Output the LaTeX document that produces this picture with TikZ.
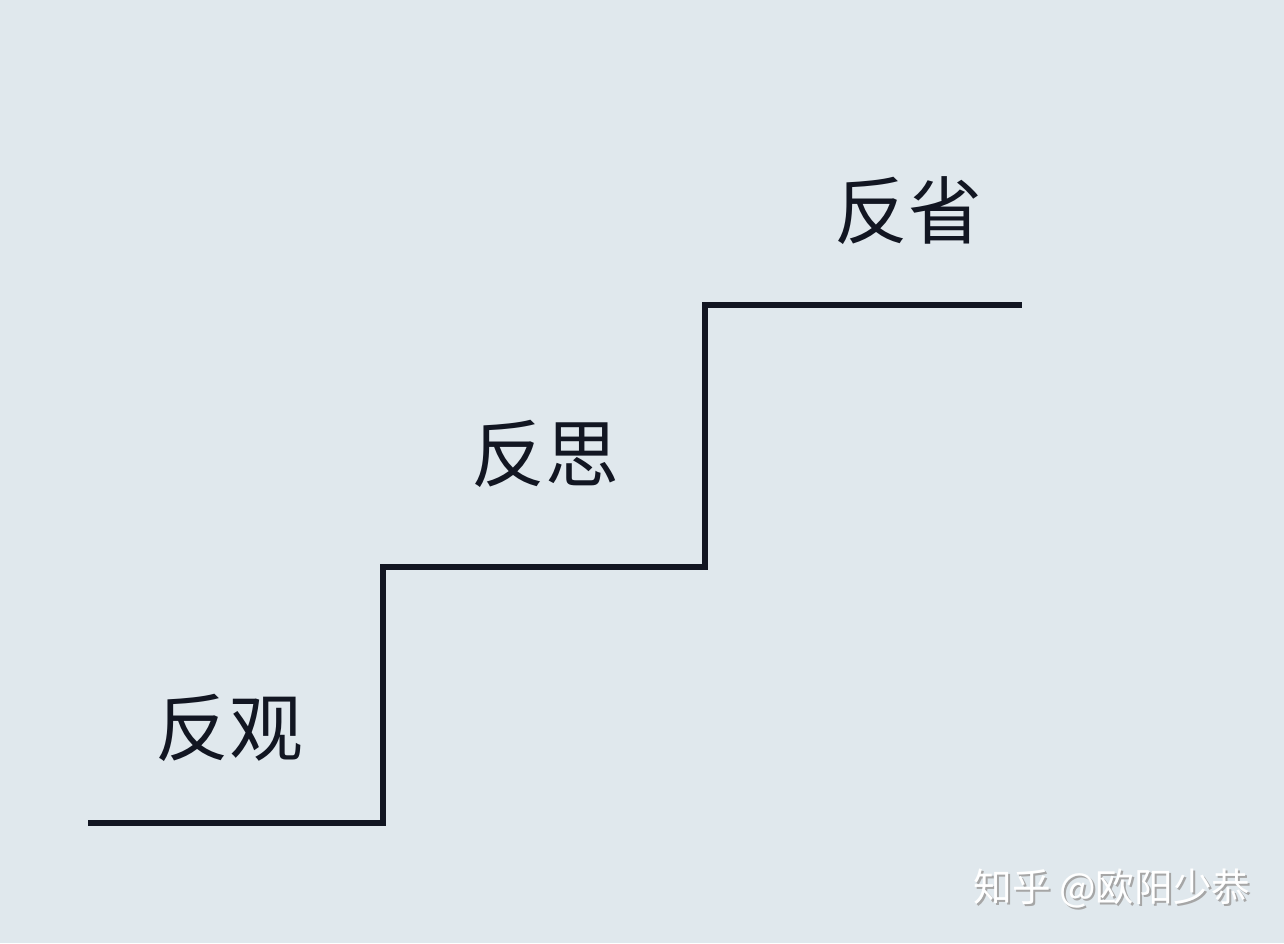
\documentclass[tikz,border=0pt]{standalone}
\usepackage{fontspec}
\newfontfamily\cjk{Noto Sans CJK SC}
\definecolor{paper}{RGB}{224,232,237}
\definecolor{ink}{RGB}{18,22,34}
\tikzset{
    steplabel/.style={text=ink, inner sep=0pt, font=\cjk\fontsize{42}{42}\selectfont},
    stairline/.style={draw=ink, line width=2.9pt, line join=miter},
    watermark/.style={text=white, inner sep=0pt, font=\cjk\fontsize{22}{22}\selectfont}
}

\begin{document}
\begin{tikzpicture}[x=0.02cm, y=-0.02cm]
    \fill[paper] (0,0) rectangle (1284,943);
    \useasboundingbox (0,0) rectangle (1284,943);

    \coordinate (s0) at (88,823);
    \coordinate (s1) at (383,823);
    \coordinate (s2) at (383,567);
    \coordinate (s3) at (705,567);
    \coordinate (s4) at (705,305);
    \coordinate (s5) at (1022,305);
    \draw[stairline] (s0) -- (s1) -- (s2) -- (s3) -- (s4) -- (s5);

    \node[steplabel] (fanguan) at (229,728) {反观};
    \node[steplabel] (fansi) at (545,454) {反思};
    \node[steplabel] (fanxing) at (908,211) {反省};

    \node[watermark, text=black!35] at (1114,891) {知乎 @欧阳少恭};
    \node[watermark] (zhihu) at (1112,889) {知乎 @欧阳少恭};
\end{tikzpicture}
\end{document}
